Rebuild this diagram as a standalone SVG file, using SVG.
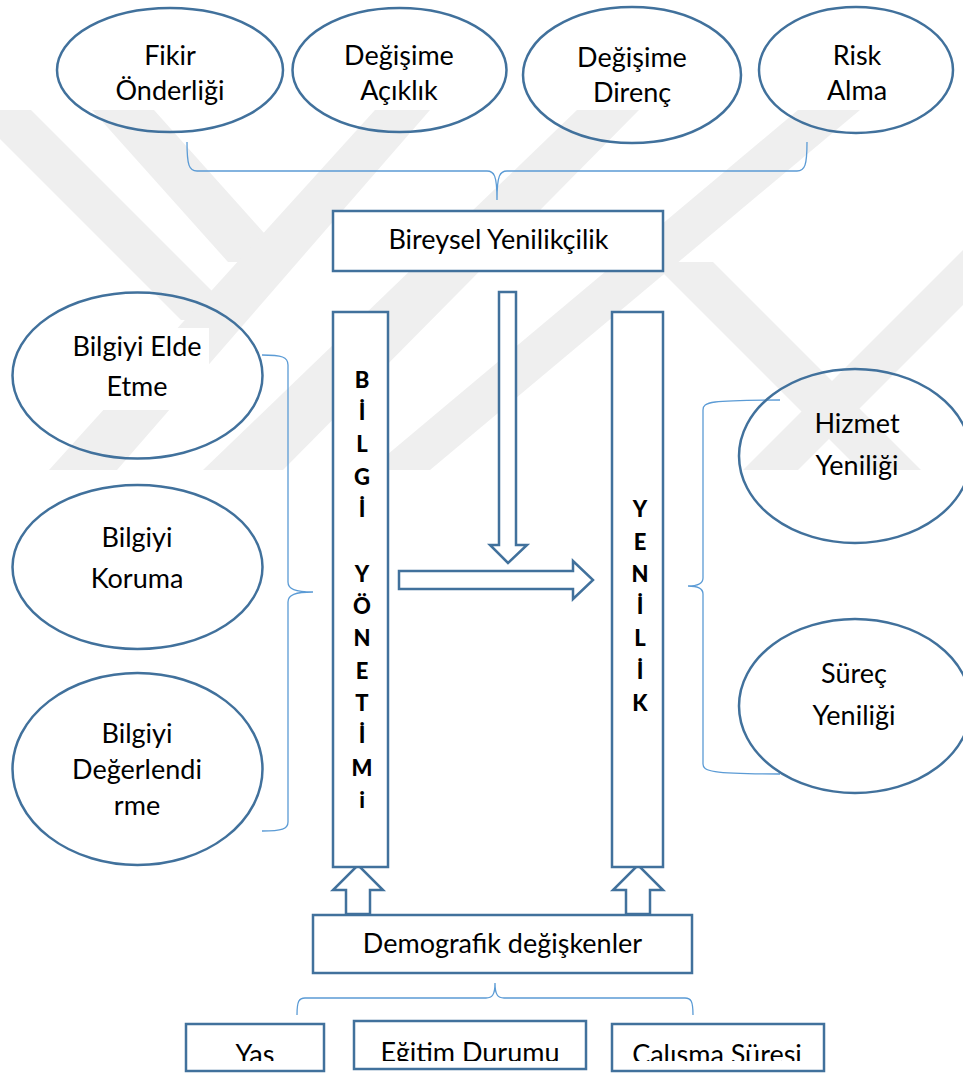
<svg xmlns="http://www.w3.org/2000/svg" width="963" height="1074" viewBox="0 0 963 1074">
  <style>
    .wm { fill: #efefef; stroke: none; }
    .oval { fill: none; stroke: #41719c; stroke-width: 2.5; }
    .box { fill: #ffffff; stroke: #41719c; stroke-width: 2.5; }
    .brace { fill: none; stroke: #5b9bd5; stroke-width: 1.3; }
    .lbl { font-family: Lato, "Liberation Sans", sans-serif; font-size: 27px; fill: #000000; text-anchor: middle; }
    .vert { font-family: Lato, "Liberation Sans", sans-serif; font-size: 22px; font-weight: 900; fill: #000000; text-anchor: middle; }
  </style>
  <defs>
    <clipPath id="clipBottom">
      <rect x="0" y="0" width="963" height="1061"/>
    </clipPath>
  </defs>

  <rect x="0" y="0" width="963" height="1074" fill="#ffffff"/>

  <!-- faint striped background emblem -->
  <g id="emblem">
    <polygon class="wm" points="-29,110 31,110 241,320 181,320"/>
    <polygon class="wm" points="92,110 154,110 290,262 228,262"/>
    <polygon class="wm" points="375,110 430,110 117,470 49,470"/>
    <polygon class="wm" points="577,110 639,110 283,470 203,470"/>
    <polygon class="wm" points="798,110 860,110 430,470 369,470"/>
    <polygon class="wm" points="743,470 798,470 1158,110 1103,110"/>
    <polygon class="wm" points="652,262 713,262 921,470 860,470"/>
  </g>

  <!-- braces and arrows -->
  <g id="connectors">
    <path class="brace" d="M187,142 C187,165 189,171 197,171 L487,171 C494,171 497,175 497,200 C497,175 500,171 507,171 L797,171 C805,171 807,165 807,142"/>
    <path class="brace" d="M262,355 C282,355 288,357 288,365 L288,582 C288,589 295,592 313,592 C295,592 288,595 288,602 L288,822 C288,829 282,831 262,831"/>
    <path class="brace" d="M780,400 C710,400 703,402 703,410 L703,578 C703,584 698,586 688,586 C698,586 703,588 703,594 L703,764 C703,771 710,774 780,774"/>
    <path class="brace" d="M297,1015 C297,1001 299,998 305,998 L486,998 C492,998 495,995 495,983 C495,995 498,998 504,998 L685,998 C691,998 693,1001 693,1015"/>

    <!-- down arrow from Bireysel Yenilikçilik -->
    <path class="box" d="M499,292 L516,292 L516,545 L527,545 L508,563 L490,545 L499,545 Z"/>
    <!-- right arrow between the two bars -->
    <path class="box" d="M399,571 L573,571 L573,561 L593,580 L573,599 L573,589 L399,589 Z"/>
    <!-- up arrows from Demografik değişkenler -->
    <path class="box" d="M346,914 L346,890 L333,890 L358,865 L383,890 L370,890 L370,914 Z"/>
    <path class="box" d="M626,914 L626,890 L613,890 L638,865 L663,890 L650,890 L650,914 Z"/>
  </g>

  <!-- top ovals -->
  <g id="fikir">
    <ellipse class="oval" cx="170" cy="70" rx="113" ry="62"/>
    <text class="lbl" x="170" y="65">Fikir</text>
    <text class="lbl" x="170" y="100">Önderliği</text>
  </g>
  <g id="acik">
    <ellipse class="oval" cx="399.5" cy="70" rx="107" ry="62"/>
    <text class="lbl" x="399" y="65">Değişime</text>
    <text class="lbl" x="399" y="100">Açıklık</text>
  </g>
  <g id="direnc">
    <ellipse class="oval" cx="632" cy="75" rx="109" ry="68"/>
    <text class="lbl" x="632" y="67">Değişime</text>
    <text class="lbl" x="632" y="102">Direnç</text>
  </g>
  <g id="risk">
    <ellipse class="oval" cx="856" cy="70" rx="97" ry="63"/>
    <text class="lbl" x="857" y="65">Risk</text>
    <text class="lbl" x="857" y="100">Alma</text>
  </g>

  <g id="bireysel">
    <rect class="box" x="333" y="211" width="330" height="60"/>
    <text class="lbl" x="498.5" y="249">Bireysel Yenilikçilik</text>
  </g>

  <!-- left ovals -->
  <g id="elde">
    <ellipse class="oval" cx="137.5" cy="375.5" rx="125" ry="83"/>
    <rect x="68" y="328" width="141" height="82" fill="#ffffff"/>
    <text class="lbl" x="137" y="356">Bilgiyi Elde</text>
    <text class="lbl" x="137" y="396">Etme</text>
  </g>
  <g id="koruma">
    <ellipse class="oval" cx="137.5" cy="567" rx="125" ry="82"/>
    <text class="lbl" x="137" y="547">Bilgiyi</text>
    <text class="lbl" x="137" y="588">Koruma</text>
  </g>
  <g id="degerlendirme">
    <ellipse class="oval" cx="137.5" cy="769" rx="125" ry="96"/>
    <text class="lbl" x="137" y="743">Bilgiyi</text>
    <text class="lbl" x="137" y="779">Değerlendi</text>
    <text class="lbl" x="137" y="815">rme</text>
  </g>

  <!-- vertical bars -->
  <g id="bilgi-yonetimi">
    <rect class="box" x="333" y="312" width="55" height="555"/>
    <text class="vert" x="362" y="388">B</text>
    <text class="vert" x="362" y="420">İ</text>
    <text class="vert" x="362" y="452">L</text>
    <text class="vert" x="362" y="485">G</text>
    <text class="vert" x="362" y="517">İ</text>
    <text class="vert" x="362" y="582">Y</text>
    <text class="vert" x="362" y="614">Ö</text>
    <text class="vert" x="362" y="646">N</text>
    <text class="vert" x="362" y="679">E</text>
    <text class="vert" x="362" y="711">T</text>
    <text class="vert" x="362" y="743">İ</text>
    <text class="vert" x="362" y="776">M</text>
    <text class="vert" x="362" y="808">i</text>
  </g>
  <g id="yenilik">
    <rect class="box" x="612" y="312" width="51" height="555"/>
    <text class="vert" x="640" y="517">Y</text>
    <text class="vert" x="640" y="550">E</text>
    <text class="vert" x="640" y="582">N</text>
    <text class="vert" x="640" y="614">İ</text>
    <text class="vert" x="640" y="646">L</text>
    <text class="vert" x="640" y="679">İ</text>
    <text class="vert" x="640" y="711">K</text>
  </g>

  <!-- right ovals -->
  <g id="hizmet">
    <ellipse class="oval" cx="855" cy="456" rx="116" ry="87"/>
    <text class="lbl" x="857" y="433">Hizmet</text>
    <text class="lbl" x="857" y="475">Yeniliği</text>
  </g>
  <g id="surec">
    <ellipse class="oval" cx="855" cy="706" rx="116" ry="87"/>
    <text class="lbl" x="854" y="683">Süreç</text>
    <text class="lbl" x="854" y="725">Yeniliği</text>
  </g>

  <g id="demografik">
    <rect class="box" x="313" y="915" width="379" height="58"/>
    <text class="lbl" x="502.5" y="953">Demografik değişkenler</text>
  </g>

  <!-- bottom boxes -->
  <g id="yas">
    <rect class="box" x="186" y="1024" width="138" height="47"/>
    <text class="lbl" x="255" y="1064" clip-path="url(#clipBottom)">Yas</text>
  </g>
  <g id="egitim">
    <rect class="box" x="354" y="1021" width="232" height="48"/>
    <text class="lbl" x="470" y="1062" clip-path="url(#clipBottom)">Eğitim Durumu</text>
  </g>
  <g id="calisma">
    <rect class="box" x="612" y="1024" width="212" height="47"/>
    <text class="lbl" x="717" y="1064" clip-path="url(#clipBottom)">Calısma Süresi</text>
  </g>
</svg>
